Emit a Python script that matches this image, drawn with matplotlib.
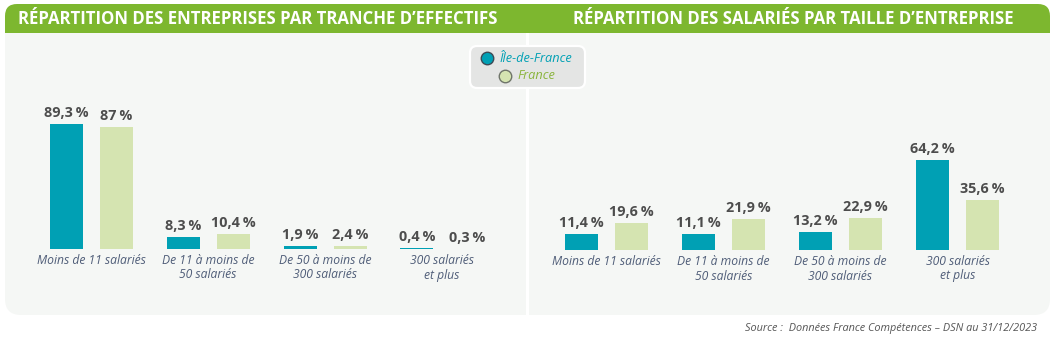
import matplotlib
matplotlib.use("Agg")
import matplotlib.pyplot as plt
from matplotlib.patches import FancyBboxPatch, Rectangle
from matplotlib.transforms import IdentityTransform

# ---------------- data ----------------
categories = ["Moins de 11 salariés", "De 11 à moins de\n50 salariés",
              "De 50 à moins de\n300 salariés", "300 salariés\net plus"]
series_names = ["Île-de-France", "France"]
entreprises_idf = [89.3, 8.3, 1.9, 0.4]
entreprises_fr = [87, 10.4, 2.4, 0.3]
salaries_idf = [11.4, 11.1, 13.2, 64.2]
salaries_fr = [19.6, 21.9, 22.9, 35.6]
title_left = "RÉPARTITION DES ENTREPRISES PAR TRANCHE D’EFFECTIFS"
title_right = "RÉPARTITION DES SALARIÉS PAR TAILLE D’ENTREPRISE"
source = "Source :  Données France Compétences – DSN au 31/12/2023"

# ---------------- style ----------------
W, H = 1053, 342
TEAL = "#00a0b4"
LGREEN = "#d5e4b1"
HEADER = "#7db72f"
PANEL = "#f5f7f5"
VAL = "#4d4d4d"
CAT = "#4f5d78"
FONT = ["Open Sans", "DejaVu Sans"]
plt.rcParams["font.family"] = FONT

fig = plt.figure(figsize=(W / 100, H / 100), dpi=100)
fig.patch.set_facecolor("white")
ID = IdentityTransform()

def py(y):  # top-origin pixel -> display y
    return H - y

# panel background (rounded bottom)
fig.add_artist(FancyBboxPatch((5, py(315)), 1045, 300, boxstyle="round,pad=0,rounding_size=16",
                              transform=ID, fc=PANEL, ec="none", zorder=-10))
# header (rounded top)
fig.add_artist(FancyBboxPatch((5, py(45)), 1045, 41, boxstyle="round,pad=0,rounding_size=12",
                              transform=ID, fc=HEADER, ec="none", zorder=-9))
fig.add_artist(Rectangle((5, py(50)), 1045, 17, transform=ID, fc=PANEL, ec="none", zorder=-8))
# divider
fig.add_artist(Rectangle((525.5, py(315)), 3, 282, transform=ID, fc="white", ec="none", zorder=-7))

fig.text(258 / W, 1 - 18.5 / H, title_left, color="white", fontsize=12.1, fontweight="bold",
         ha="center", va="center")
fig.text(793 / W, 1 - 18.5 / H, title_right, color="white", fontsize=12.1, fontweight="bold",
         ha="center", va="center")
fig.text(1037 / W, 1 - 328 / H, source, color="#555555", fontsize=7.8, style="italic",
         ha="right", va="center")

SP = 117.0    # px per category
PXU = 1.40    # px per percent
OFF = 25 / SP
BW = 33 / SP

def fmt(v):
    s = f"{v:g}".replace(".", ",")
    return s + "\u2009%"

def make_panel(x0, x1, center0, base, idf, fr):
    ax = fig.add_axes([x0 / W, (H - 315) / H, (x1 - x0) / W, 282 / H])
    ax.set_xlim(-(center0 - x0) / SP, -(center0 - x0) / SP + (x1 - x0) / SP)
    ax.set_ylim(-(315 - base) / PXU, (base - 33) / PXU)
    ax.axis("off")
    xs = list(range(len(categories)))
    ax.bar([x - OFF for x in xs], idf, width=BW, color=TEAL)
    ax.bar([x + OFF for x in xs], fr, width=BW, color=LGREEN)
    for x, a, b in zip(xs, idf, fr):
        ax.annotate(fmt(a), (x - OFF, a), xytext=(0, 4), textcoords="offset pixels",
                    ha="center", va="bottom", fontsize=10.4, fontweight="bold", color=VAL)
        ax.annotate(fmt(b), (x + OFF, b), xytext=(0, 4), textcoords="offset pixels",
                    ha="center", va="bottom", fontsize=10.4, fontweight="bold", color=VAL)
    for x, c in zip(xs, categories):
        ax.annotate(c, (x, 0), xytext=(0, -5), textcoords="offset pixels", ha="center",
                    va="top", fontsize=8.7, style="italic", color=CAT, linespacing=1.15)
    return ax

make_panel(5, 525, 91, 249, entreprises_idf, entreprises_fr)
make_panel(529, 1050, 606.5, 250, salaries_idf, salaries_fr)

# legend box
fig.add_artist(FancyBboxPatch((470, py(88)), 115, 42, boxstyle="round,pad=0,rounding_size=7",
                              transform=ID, fc="#e4e5e4", ec="white", lw=1.6, zorder=2))
lax = fig.add_axes([0, 0, 1, 1], facecolor="none", zorder=3)
lax.set_xlim(0, W)
lax.set_ylim(H, 0)
lax.axis("off")
lax.plot([487], [58], "o", ms=9, mfc=TEAL, mec="#3d4a55", mew=1)
lax.plot([505], [75.5], "o", ms=9, mfc=LGREEN, mec="#6f756a", mew=1)
lax.text(499, 58, series_names[0], color=TEAL, fontsize=9.2, style="italic", va="center")
lax.text(517, 75.5, series_names[1], color="#8ab43c", fontsize=9.2, style="italic", va="center")

fig.savefig("out.png", dpi=100)
